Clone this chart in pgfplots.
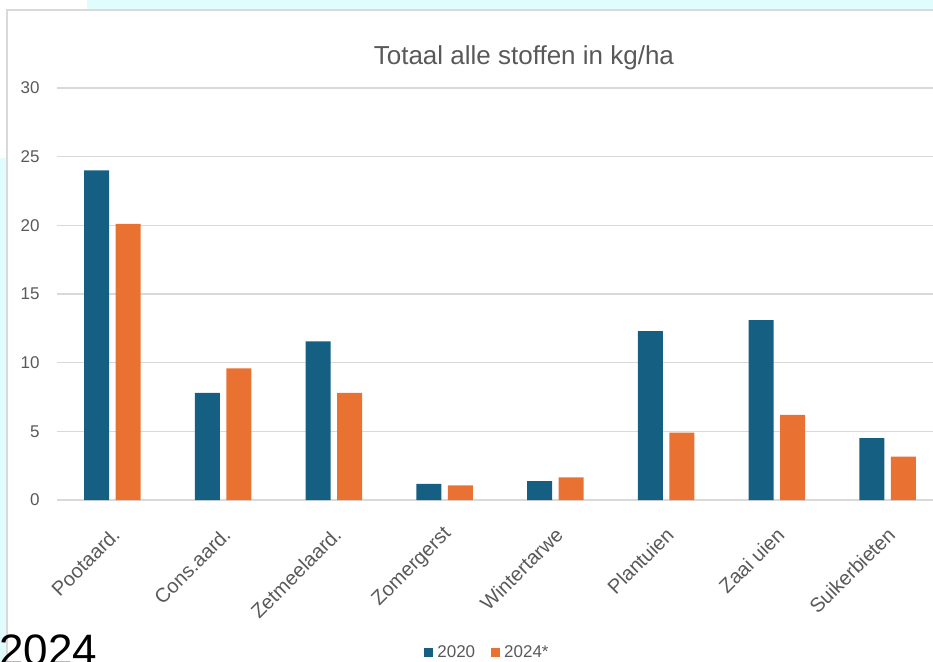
\documentclass[border=0pt]{standalone}
\usepackage{fontspec}
\setmainfont{Liberation Sans}
\usepackage{pgfplots}
\pgfplotsset{compat=1.18}
\definecolor{blauw}{HTML}{156082}
\definecolor{oranje}{HTML}{E97132}
\definecolor{tekst}{HTML}{595959}
\definecolor{raster}{HTML}{D9D9D9}
\definecolor{achter}{HTML}{E0FCFD}

\begin{document}
\begin{tikzpicture}
% picture is cut on the right and bottom, like the screenshot
\useasboundingbox (0pt,0pt) rectangle (466.5pt,330.5pt);
\clip (0pt,0pt) rectangle (466.5pt,330.5pt);
\fill[achter] (43.5pt,326pt) rectangle (466.5pt,330.5pt);
\fill[achter] (0pt,0pt) rectangle (3pt,251.5pt);
\draw[raster, line width=1pt] (3.25pt,0pt) -- (3.25pt,325.75pt) -- (466.5pt,325.75pt);
\begin{axis}[
    at={(28.5pt,80.5pt)}, anchor=south west,
    scale only axis, width=443pt, height=206pt,
    ybar=3.25pt, bar width=12.5pt,
    xmin=-0.5, xmax=7.5, ymin=0, ymax=30,
    xtick={0,...,7},
    xticklabels={Pootaard.,Cons.aard.,Zetmeelaard.,Zomergerst,Wintertarwe,Plantuien,Zaai uien,Suikerbieten},
    ytick={0,5,...,30},
    axis line style={draw=none},
    major tick length=0pt,
    ymajorgrids, grid style={raster, line width=0.75pt},
    /pgf/number format/assume math mode=true,
    yticklabel style={font=\fontsize{8.5}{10}\selectfont, text=tekst, inner sep=0pt, xshift=-8.5pt},
    xticklabel style={font=\fontsize{10}{12}\selectfont, text=tekst, xshift=2pt, yshift=-15.5pt, rotate=45, anchor=east, inner sep=0pt},
    title={Totaal alle stoffen in kg/ha},
    title style={at={(0.527,1.027)}, anchor=base, font=\fontsize{13}{15}\selectfont, text=tekst, inner sep=0pt},
    legend style={at={(0.487,-0.371)}, anchor=center, draw=none, fill=none,
        font=\fontsize{8.5}{10}\selectfont, text=tekst, legend columns=2,
        /tikz/every even column/.append style={column sep=6pt}},
]
\addplot[fill=blauw, draw=none,
    legend image code/.code={\fill[blauw] (0pt,-2.25pt) rectangle (4.5pt,2.25pt);}]
    coordinates {(0,24.0) (1,7.8) (2,11.55) (3,1.17) (4,1.38) (5,12.3) (6,13.1) (7,4.5)};
\addlegendentry{2020}
\addplot[fill=oranje, draw=none,
    legend image code/.code={\fill[oranje] (0pt,-2.25pt) rectangle (4.5pt,2.25pt);}]
    coordinates {(0,20.1) (1,9.58) (2,7.8) (3,1.07) (4,1.65) (5,4.9) (6,6.2) (7,3.15)};
\addlegendentry{2024*}
\end{axis}
\node[anchor=base west, inner sep=0pt, font=\fontsize{22}{26}\selectfont] at (-0.5pt,-2pt) {2024};
\end{tikzpicture}
\end{document}
